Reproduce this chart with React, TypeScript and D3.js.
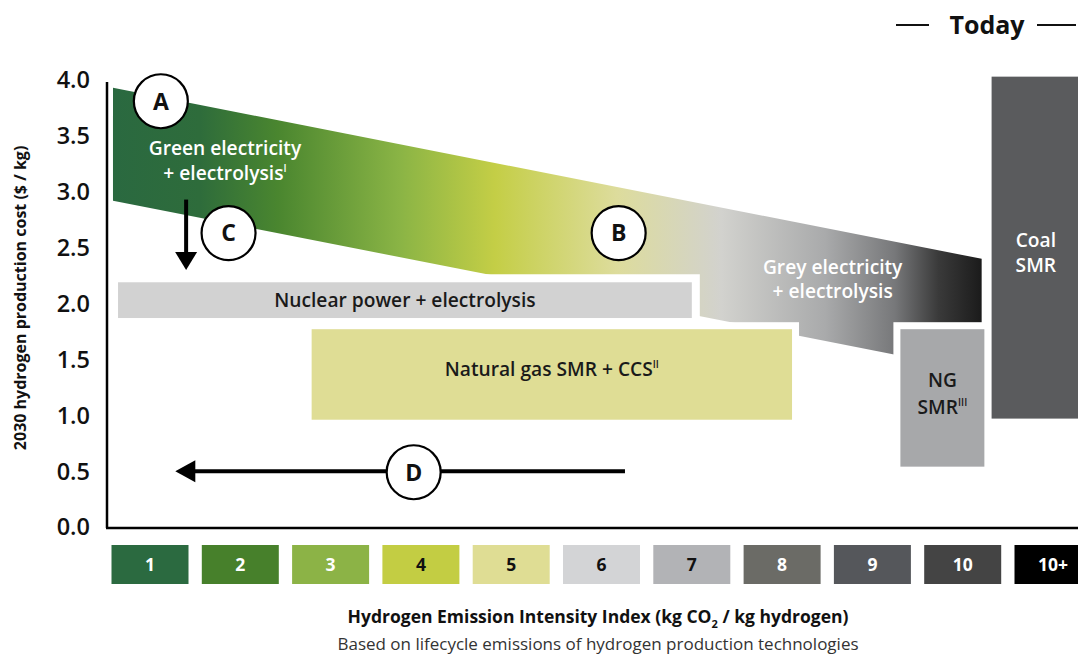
import React from "react";
import * as d3 from "d3";

const W = 1078;
const H = 655;

// index categories (x axis legend)
const indexLabels = ["1", "2", "3", "4", "5", "6", "7", "8", "9", "10", "10+"];
const indexColors = ["#2b6a40", "#47802b", "#8cb346", "#c3cd43", "#dfdd94", "#d3d4d6", "#b2b3b6", "#6b6b66", "#55575b", "#444444", "#000000"];
const indexTextColors = ["#fff", "#fff", "#fff", "#111", "#111", "#111", "#111", "#fff", "#fff", "#fff", "#fff"];

const yTicks = [0, 0.5, 1, 1.5, 2, 2.5, 3, 3.5, 4];

// electrolysis band (index units, $/kg)
const bandX = [0.59, 10.21];
const bandTop = [3.93, 2.4];
const bandThickness = 1.01;
const bandStops = [
  { o: 0, c: "#2a6940" },
  { o: 0.1, c: "#2e6c3b" },
  { o: 0.19, c: "#4a862f" },
  { o: 0.33, c: "#8ab445" },
  { o: 0.44, c: "#c4ce46" },
  { o: 0.58, c: "#dddc9c" },
  { o: 0.7, c: "#d2d2ce" },
  { o: 0.82, c: "#a9aaab" },
  { o: 0.9, c: "#77787a" },
  { o: 0.95, c: "#3a3a3a" },
  { o: 1, c: "#1b1b1b" },
];

// boxes
const boxNames = ["nuclear", "ngccs", "ngsmr", "coal"];
const boxX0 = [0.646, 2.79, 9.31, 10.32];
const boxX1 = [7.0, 8.11, 10.24, 11.3];
const boxLow = [1.87, 0.96, 0.54, 0.97];
const boxHigh = [2.19, 1.77, 1.77, 4.03];
const boxFill = ["#d2d2d2", "#dfdd95", "#a7a8aa", "#5a5b5d"];
const boxPad = [8, 7, 7, 0];

// circle markers
const markerLabels = ["A", "B", "C", "D"];
const markerX = [1.12, 6.19, 1.87, 3.92];
const markerY = [3.81, 2.63, 2.63, 0.49];

// arrows
const arrowC = { x: 1.4, y0: 2.93, y1: 2.3 };
const arrowD = { y: 0.5, x0: 6.26, x1: 1.28 };

const FONT = "'Open Sans', 'Noto Sans', sans-serif";

export default function App() {
  const x = d3.scaleLinear().domain([1, 11]).range([150, 1053]);
  const y = d3.scaleLinear().domain([0, 4]).range([527, 80]);
  const boxW = 77;
  const LF = 19.2;

  const line = d3.line<[number, number]>().x((d) => x(d[0])).y((d) => y(d[1]));
  const bandPath =
    line([
      [bandX[0], bandTop[0]],
      [bandX[1], bandTop[1]],
      [bandX[1], bandTop[1] - bandThickness],
      [bandX[0], bandTop[0] - bandThickness],
    ]) + "Z";

  const cx = (i: number) => (x(boxX0[i]) + x(boxX1[i])) / 2;

  return (
    <svg width={W} height={H} viewBox={`0 0 ${W} ${H}`} style={{ display: "block", position: "absolute", left: 0, top: 0, background: "#fff" }} fontFamily={FONT}>
      <defs>
        <linearGradient id="bandGrad" gradientUnits="userSpaceOnUse" x1={x(bandX[0])} x2={x(bandX[1])} y1={0} y2={0}>
          {bandStops.map((s, i) => (
            <stop key={i} offset={s.o} stopColor={s.c} />
          ))}
        </linearGradient>
      </defs>
      <rect x={0} y={0} width={W} height={H} fill="#fff" />

      {/* Today header */}
      <line x1={896} x2={929} y1={25} y2={25} stroke="#111" strokeWidth={2} />
      <text x={987} y={25} dy="0.35em" textAnchor="middle" fontSize={25} fontWeight={700} fill="#111">Today</text>
      <line x1={1037} x2={1076} y1={25} y2={25} stroke="#111" strokeWidth={2} />

      {/* band */}
      <path d={bandPath} fill="url(#bandGrad)" />

      {/* white pads */}
      {boxNames.map((n, i) => (
        <rect key={"pad" + n} x={x(boxX0[i]) - boxPad[i]} y={y(boxHigh[i]) - boxPad[i]} width={x(boxX1[i]) - x(boxX0[i]) + 2 * boxPad[i]} height={y(boxLow[i]) - y(boxHigh[i]) + 2 * boxPad[i]} fill="#fff" />
      ))}
      {boxNames.map((n, i) => (
        <rect key={n} x={x(boxX0[i])} y={y(boxHigh[i])} width={x(boxX1[i]) - x(boxX0[i])} height={y(boxLow[i]) - y(boxHigh[i])} fill={boxFill[i]} />
      ))}

      {/* band labels */}
      <text x={x(1.83)} y={y(3.385)} dy="0.35em" textAnchor="middle" fontSize={LF} fontWeight={600} fill="#fff">Green electricity</text>
      <text x={x(1.83)} y={y(3.165)} dy="0.35em" textAnchor="middle" fontSize={LF} fontWeight={600} fill="#fff">
        + electrolysis<tspan fontSize={10} dy={-8}>I</tspan>
      </text>
      <text x={x(8.56)} y={y(2.325)} dy="0.35em" textAnchor="middle" fontSize={LF} fontWeight={600} fill="#fff">Grey electricity</text>
      <text x={x(8.56)} y={y(2.105)} dy="0.35em" textAnchor="middle" fontSize={LF} fontWeight={600} fill="#fff">+ electrolysis</text>

      {/* box labels */}
      <text x={cx(0)} y={(y(boxLow[0]) + y(boxHigh[0])) / 2} dy="0.35em" textAnchor="middle" fontSize={LF} fontWeight={600} fill="#1a1a1a">Nuclear power + electrolysis</text>
      <text x={cx(1)} y={y(1.41)} dy="0.35em" textAnchor="middle" fontSize={LF} fontWeight={600} fill="#1a1a1a">
        Natural gas SMR + CCS<tspan fontSize={10} dy={-8}>II</tspan>
      </text>
      <text x={cx(2)} y={y(1.315)} dy="0.35em" textAnchor="middle" fontSize={LF} fontWeight={600} fill="#1a1a1a">NG</text>
      <text x={cx(2)} y={y(1.075)} dy="0.35em" textAnchor="middle" fontSize={LF} fontWeight={600} fill="#1a1a1a">
        SMR<tspan fontSize={10} dy={-8}>III</tspan>
      </text>
      <text x={cx(3)} y={y(2.565)} dy="0.35em" textAnchor="middle" fontSize={LF} fontWeight={600} fill="#fff">Coal</text>
      <text x={cx(3)} y={y(2.345)} dy="0.35em" textAnchor="middle" fontSize={LF} fontWeight={600} fill="#fff">SMR</text>

      {/* arrows */}
      <line x1={x(arrowC.x)} x2={x(arrowC.x)} y1={y(arrowC.y0)} y2={y(arrowC.y1) - 14} stroke="#000" strokeWidth={4} />
      <path d={`M${x(arrowC.x) - 11},${y(arrowC.y1) - 18}L${x(arrowC.x) + 11},${y(arrowC.y1) - 18}L${x(arrowC.x)},${y(arrowC.y1)}Z`} fill="#000" />
      <line x1={x(arrowD.x0)} x2={x(arrowD.x1) + 16} y1={y(arrowD.y)} y2={y(arrowD.y)} stroke="#000" strokeWidth={4} />
      <path d={`M${x(arrowD.x1) + 20},${y(arrowD.y) - 11}L${x(arrowD.x1) + 20},${y(arrowD.y) + 11}L${x(arrowD.x1)},${y(arrowD.y)}Z`} fill="#000" />

      {/* markers */}
      {markerLabels.map((m, i) => (
        <g key={m}>
          <circle cx={x(markerX[i])} cy={y(markerY[i])} r={27} fill="#fff" stroke="#000" strokeWidth={2.2} />
          <text x={x(markerX[i])} y={y(markerY[i])} dy="0.36em" textAnchor="middle" fontSize={23} fontWeight={700} fill="#111">{m}</text>
        </g>
      ))}

      {/* axes */}
      <line x1={107} x2={107} y1={82} y2={528} stroke="#000" strokeWidth={2.5} />
      <line x1={106} x2={W} y1={528} y2={528} stroke="#000" strokeWidth={2.5} />
      {yTicks.map((t) => (
        <text key={t} x={90} y={y(t)} dy="0.36em" textAnchor="end" fontSize={23.5} fontWeight={600} fill="#111">{d3.format(".1f")(t)}</text>
      ))}
      <text transform={`translate(20,${y(2.05)}) rotate(-90)`} dy="0.35em" textAnchor="middle" fontSize={16} fontWeight={700} fill="#111">2030 hydrogen production cost ($ / kg)</text>

      {/* index legend */}
      {indexLabels.map((l, i) => (
        <g key={l}>
          <rect x={x(i + 1) - boxW / 2} y={545} width={boxW} height={39} fill={indexColors[i]} />
          <text x={x(i + 1)} y={564.5} dy="0.36em" textAnchor="middle" fontSize={17.5} fontWeight={700} fill={indexTextColors[i]}>{l}</text>
        </g>
      ))}
      <text x={598} y={617} dy="0.35em" textAnchor="middle" fontSize={17.5} fontWeight={700} fill="#111">
        Hydrogen Emission Intensity Index (kg CO<tspan fontSize={11} dy={5}>2</tspan><tspan dy={-5}> / kg hydrogen)</tspan>
      </text>
      <text x={598} y={644.5} dy="0.35em" textAnchor="middle" fontSize={17} fontWeight={400} fill="#333">Based on lifecycle emissions of hydrogen production technologies</text>
    </svg>
  );
}
